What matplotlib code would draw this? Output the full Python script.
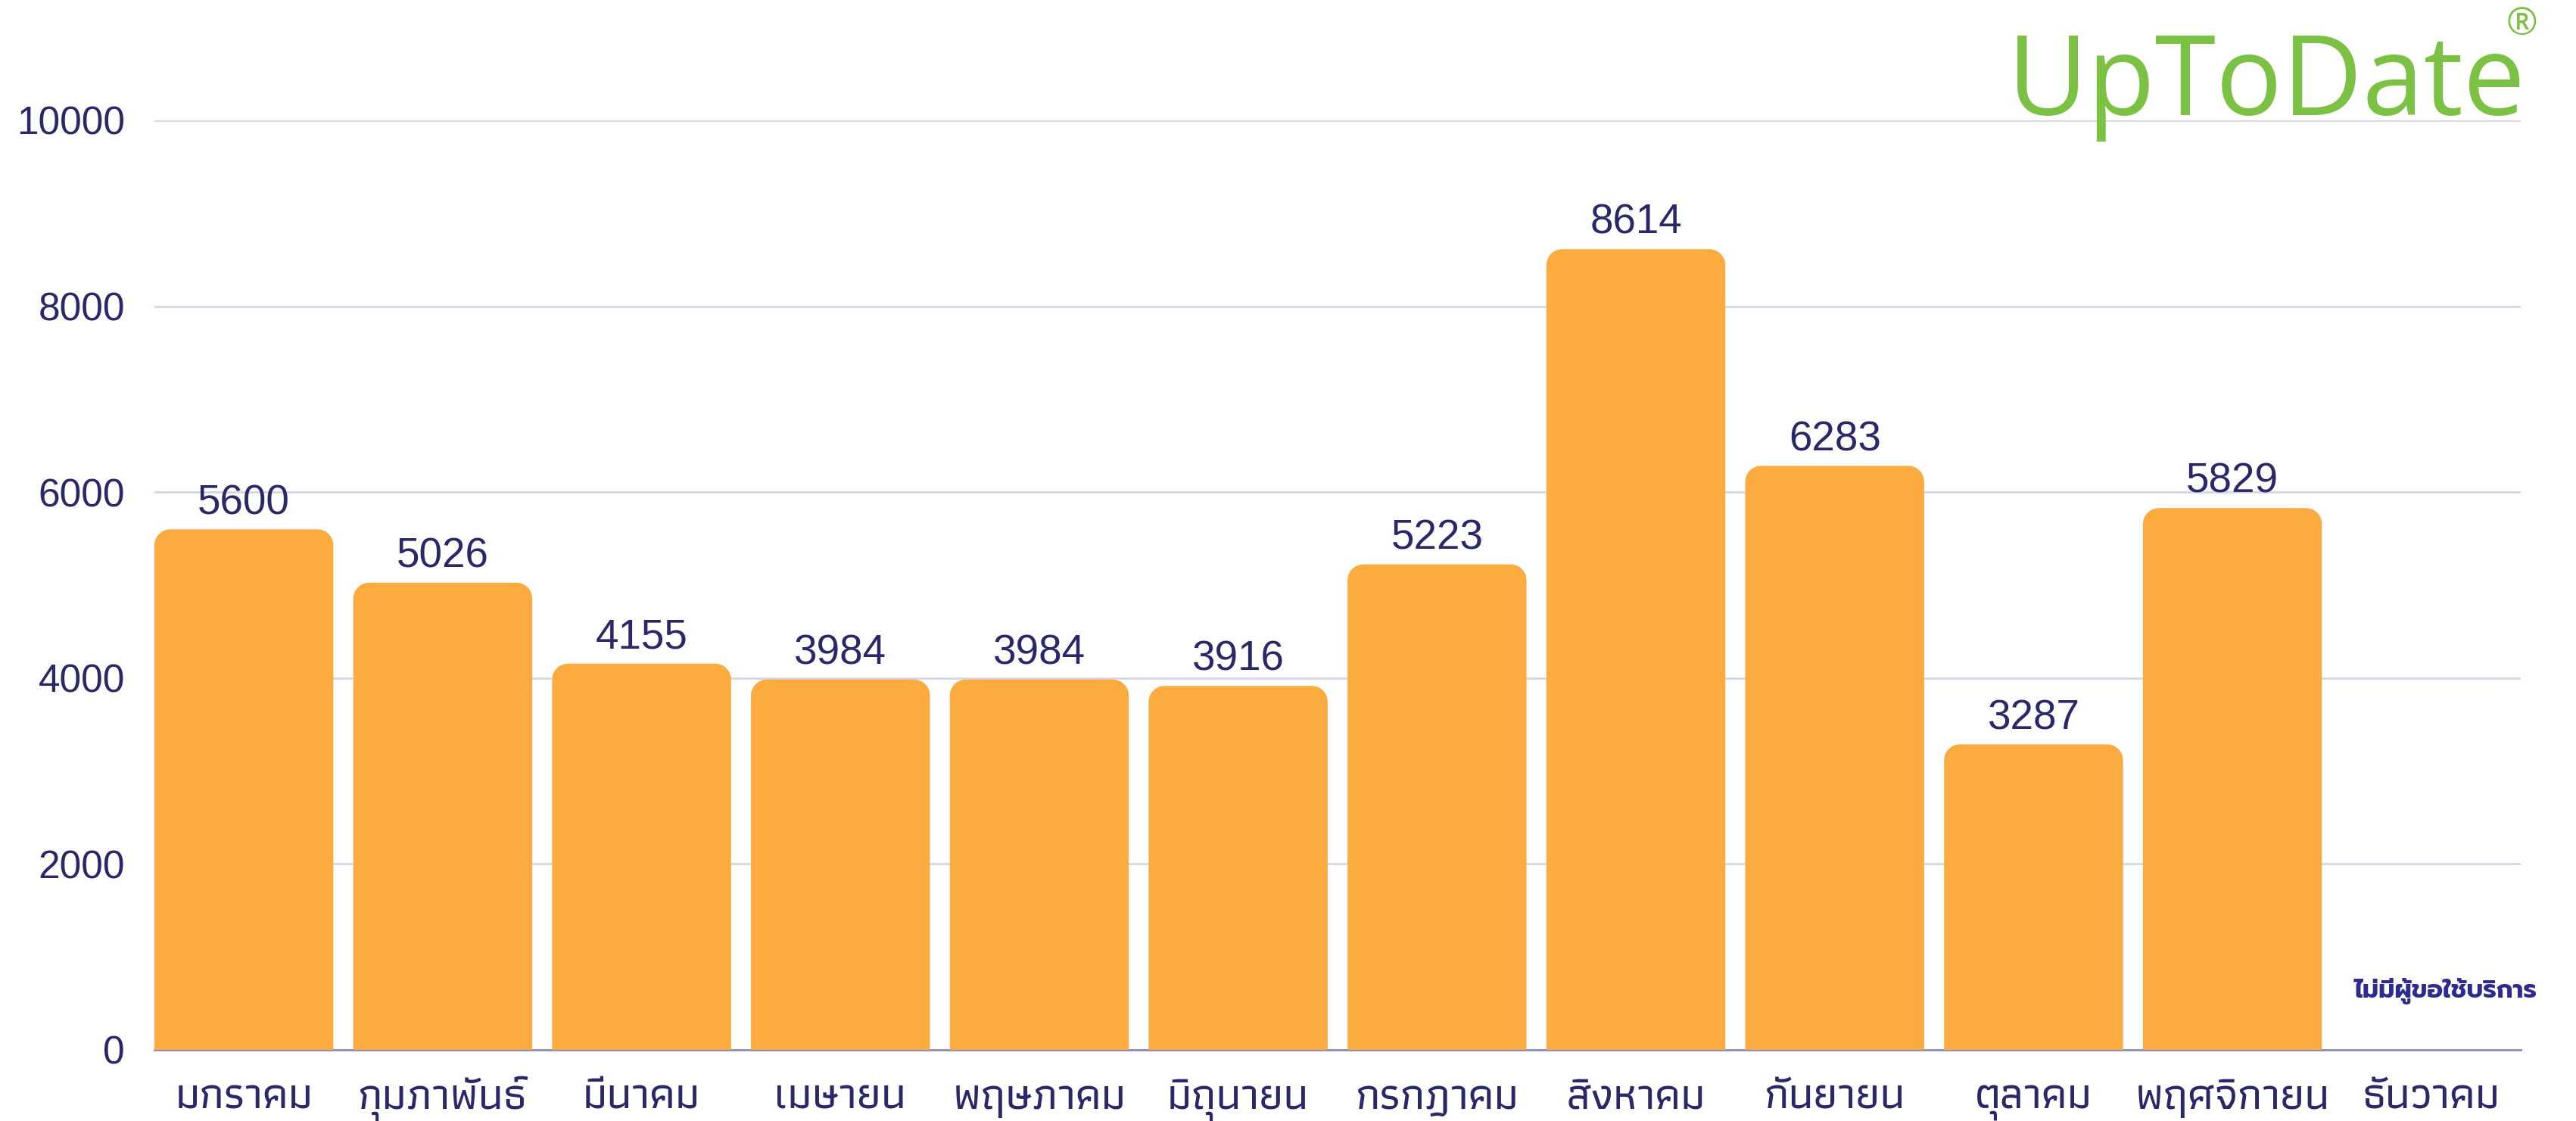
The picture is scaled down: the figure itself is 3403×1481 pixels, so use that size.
import matplotlib
matplotlib.use("Agg")
import matplotlib.pyplot as plt
from matplotlib import font_manager
from matplotlib.path import Path
from matplotlib.patches import PathPatch

# ---------------- data ----------------
months = ["มกราคม", "กุมภาพันธ์", "มีนาคม", "เมษายน", "พฤษภาคม", "มิถุนายน",
          "กรกฎาคม", "สิงหาคม", "กันยายน", "ตุลาคม", "พฤศจิกายน", "ธันวาคม"]
values = [5600, 5026, 4155, 3984, 3984, 3916, 5223, 8614, 6283, 3287, 5829, 0]
yticks = [0, 2000, 4000, 6000, 8000, 10000]
no_service_note = "ไม่มีผู้ขอใช้บริการ"
logo_text = "UpToDate"

# ---------------- fonts ----------------
installed = {fe.name for fe in font_manager.fontManager.ttflist}

def pick(cands):
    return [c for c in cands if c in installed] + ["DejaVu Sans"]

latin = pick(["Liberation Sans"])
thai_label_family = pick(["Athiti", "Thasadith", "Anuphan"])
note_family = pick(["Prompt", "Kanit", "Anuphan"])
logo_family = pick(["Open Sans"])
plt.rcParams["font.family"] = latin

NAVY = "#2A2868"
NOTE = "#2E2B8E"
BAR = "#FBAB3F"
GRID = "#D5D5E5"
AXIS = "#8C8BB5"
GREEN = "#7BC143"

W, H = 3403, 1481
fig = plt.figure(figsize=(W / 100, H / 100), dpi=100)
left, right = 204 / W, 3330 / W
bottom, top = (H - 1387) / H, (H - 159) / H
ax = fig.add_axes([left, bottom, right - left, top - bottom])

x = list(range(len(months)))
bars = ax.bar(x, values, width=0.9, color=BAR, zorder=3)
ax.set_xlim(-0.45, 11.45)
ax.set_ylim(0, 10000)

# rounded top corners (radius ~21 px)
px_per_x = (right - left) * W / 11.9
px_per_y = (top - bottom) * H / 10000
rx = 21 / px_per_x
ry = 21 / px_per_y
k = 0.5523
for rect in bars.patches:
    x0, y0 = rect.get_x(), rect.get_y()
    w, h = rect.get_width(), rect.get_height()
    rect.set_visible(False)
    if h <= 0:
        continue
    r_y = min(ry, h)
    x1, y1 = x0 + w, y0 + h
    verts = [
        (x0, y0), (x1, y0), (x1, y1 - r_y),
        (x1, y1 - r_y + k * r_y), (x1 - rx + k * rx, y1), (x1 - rx, y1),
        (x0 + rx, y1),
        (x0 + rx - k * rx, y1), (x0, y1 - r_y + k * r_y), (x0, y1 - r_y),
        (x0, y0),
    ]
    codes = [Path.MOVETO, Path.LINETO, Path.LINETO,
             Path.CURVE4, Path.CURVE4, Path.CURVE4,
             Path.LINETO,
             Path.CURVE4, Path.CURVE4, Path.CURVE4,
             Path.CLOSEPOLY]
    ax.add_patch(PathPatch(Path(verts, codes), facecolor=BAR, edgecolor="none", zorder=3))

# value labels
for xi, v in zip(x, values):
    if v > 0:
        ax.text(xi, v + 165, str(v), ha="center", va="baseline", fontsize=39.5,
                color=NAVY, zorder=4)

ax.text(11.07, 635, no_service_note, ha="center", va="center", fontsize=24,
        fontweight="bold", color=NOTE, family=note_family, zorder=4)

# axes styling
ax.set_yticks(yticks)
ax.set_yticklabels([str(t) for t in yticks], fontsize=37, color=NAVY)
ax.set_xticks(x)
ax.set_xticklabels(months, fontsize=42, fontweight=500, color=NAVY, family=thai_label_family)
for lab in ax.get_xticklabels():
    lab.set_verticalalignment("baseline")
ax.tick_params(axis="y", length=0, pad=28)
ax.tick_params(axis="x", length=0, pad=56)
ax.grid(axis="y", color=GRID, linewidth=2, zorder=0)
for s in ["top", "right", "left"]:
    ax.spines[s].set_visible(False)
ax.spines["bottom"].set_color(AXIS)
ax.spines["bottom"].set_linewidth(2)
ax.spines["bottom"].set_zorder(2)

# logo
fig.text(2652 / W, (H - 152) / H, logo_text, ha="left", va="baseline", fontsize=105,
         color=GREEN, family=logo_family, fontweight=400, zorder=5)
fig.text(3352 / W, (H - 8) / H, "®", ha="right", va="top", fontsize=36,
         color=GREEN, family=logo_family, fontweight=400, zorder=5)

fig.savefig("out.png", dpi=100)
